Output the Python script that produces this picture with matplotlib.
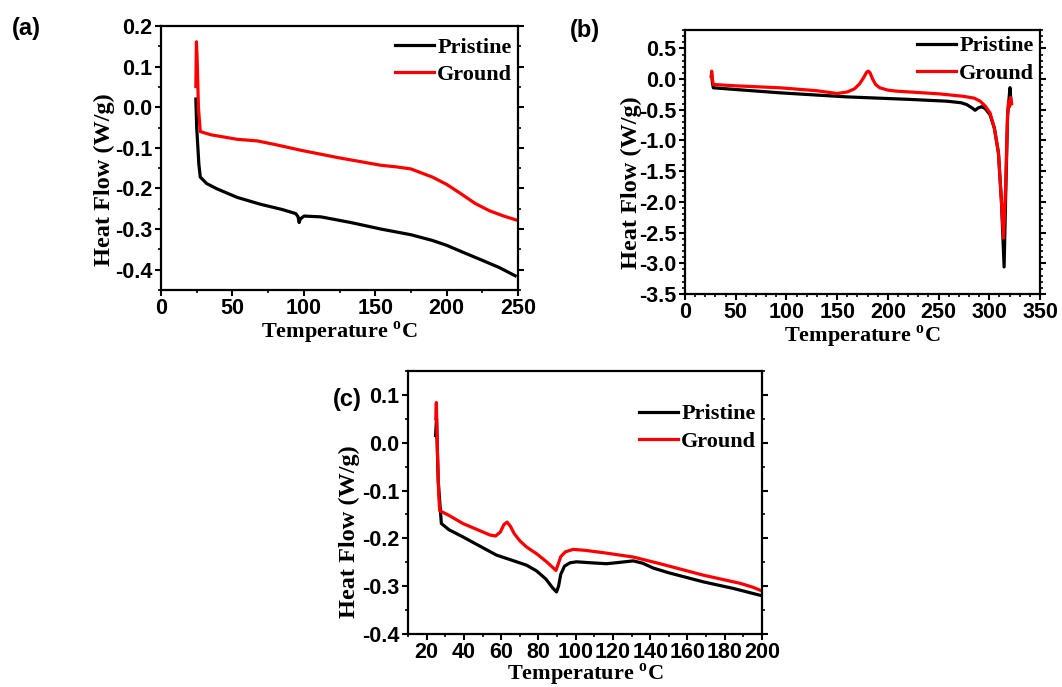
import numpy as np
import matplotlib
matplotlib.use("Agg")
from matplotlib import pyplot as plt
from matplotlib.ticker import MultipleLocator, FormatStrFormatter

plt.rcParams['font.family'] = ['Liberation Sans', 'DejaVu Sans']
plt.rcParams['font.weight'] = 'bold'
plt.rcParams['mathtext.fontset'] = 'custom'
plt.rcParams['mathtext.rm'] = 'Liberation Serif:bold'
plt.rcParams['mathtext.bf'] = 'Liberation Serif:bold'

# (a) heat flow, W/g
a_pri_T = [24.4, 25.0, 26.5, 27.5, 32, 39.2, 53.3, 69.7, 85, 94.4, 96.0, 96.7, 97.6, 100.2, 112, 133, 154, 175, 190, 200, 212, 225, 237, 248]
a_pri_v = [0.02, -0.05, -0.14, -0.172, -0.188, -0.201, -0.222, -0.239, -0.252, -0.262, -0.27, -0.284, -0.275, -0.268, -0.27, -0.284, -0.300, -0.314, -0.328, -0.34, -0.358, -0.377, -0.395, -0.415]
a_gro_T = [24.4, 24.8, 25.3, 26.2, 27.5, 35, 53.3, 67.4, 80, 97.9, 123.7, 154, 165, 175, 190, 200, 210, 220, 230, 240, 249]
a_gro_v = [0.051, 0.161, 0.12, 0.0, -0.06, -0.068, -0.079, -0.083, -0.092, -0.106, -0.124, -0.143, -0.147, -0.152, -0.172, -0.19, -0.213, -0.237, -0.255, -0.268, -0.278]

# (b)
b_pri_T = [26.0, 26.3, 27.0, 27.9, 50, 93.7, 159.4, 220, 258, 272, 277.7, 283, 286, 289, 292.5, 296, 300.7, 305, 309, 312, 314.6, 316, 318, 320.4, 321.5]
b_pri_v = [0.05, 0.075, -0.05, -0.142, -0.17, -0.224, -0.29, -0.33, -0.36, -0.385, -0.415, -0.47, -0.508, -0.47, -0.45, -0.48, -0.58, -0.8, -1.2, -2.0, -3.06, -2.0, -0.6, -0.14, -0.4]
b_gro_T = [26.0, 26.3, 27.0, 27.9, 50, 93.7, 130, 150, 160, 167, 172, 176, 179, 180.7, 182.5, 185, 188, 192, 200, 208.7, 250, 274, 285, 291, 296, 300.7, 305, 309, 312, 314, 316, 318, 319, 320, 321, 322]
b_gro_v = [0.05, 0.13, 0.0, -0.088, -0.11, -0.142, -0.19, -0.235, -0.21, -0.16, -0.08, 0.02, 0.11, 0.13, 0.1, 0.0, -0.09, -0.142, -0.18, -0.197, -0.24, -0.28, -0.31, -0.36, -0.44, -0.55, -0.8, -1.2, -2.0, -2.59, -1.8, -0.6, -0.36, -0.45, -0.3, -0.4]

# (c)
c_pri_T = [24.8, 25.3, 26.2, 27.9, 32, 39.5, 48, 57.5, 66, 73.6, 79, 84, 87.5, 89.7, 90.8, 92, 94, 97, 100.5, 108, 116.6, 124, 130.9, 136, 141.6, 150, 168.6, 185, 200]
c_pri_v = [0.015, 0.05, -0.08, -0.169, -0.182, -0.197, -0.215, -0.235, -0.246, -0.256, -0.268, -0.285, -0.303, -0.312, -0.30, -0.275, -0.258, -0.251, -0.249, -0.251, -0.253, -0.25, -0.247, -0.252, -0.262, -0.272, -0.291, -0.305, -0.32]
c_gro_T = [24.9, 25.2, 25.8, 26.5, 27.0, 32, 39.5, 48, 54, 57, 59.5, 61.5, 63.2, 65, 67, 70, 73.6, 79, 84.4, 88, 89.4, 90.5, 92, 94.5, 98.7, 105, 115, 130.9, 145.3, 168.6, 188.3, 195, 200]
c_gro_v = [0.05, 0.084, -0.02, -0.11, -0.142, -0.152, -0.169, -0.183, -0.193, -0.195, -0.187, -0.171, -0.166, -0.175, -0.19, -0.205, -0.218, -0.232, -0.249, -0.262, -0.267, -0.255, -0.238, -0.228, -0.223, -0.225, -0.23, -0.239, -0.253, -0.277, -0.294, -0.302, -0.31]

serif = {'family': 'Liberation Serif', 'weight': 'bold'}
xlabel = 'Temperature $^{\\mathbf{o}}$C'

fig = plt.figure(figsize=(10.62, 6.87), dpi=100)
ax_a = fig.add_axes([0.1516, 0.5779, 0.3362, 0.3843])
ax_b = fig.add_axes([0.6450, 0.5721, 0.3343, 0.3843])
ax_c = fig.add_axes([0.3842, 0.0771, 0.3333, 0.3829])

panels = [
    (ax_a, a_pri_T, a_pri_v, a_gro_T, a_gro_v, (0, 250), (-0.45, 0.2), 50, 25, 0.1, 0.05, (-0.129, 0.417), 1.0, 0),
    (ax_b, b_pri_T, b_pri_v, b_gro_T, b_gro_v, (0, 350), (-3.5, 0.8), 50, 10, 0.5, 0.1, (-0.121, 0.42), 1.02, 0),
    (ax_c, c_pri_T, c_pri_v, c_gro_T, c_gro_v, (10, 200), (-0.4, 0.15), 20, 10, 0.1, 0.05, (-0.136, 0.39), 0.917, -1.5),
]

for ax, pT, pv, gT, gv, xl, yl, xmaj, xmin, ymaj, ymin, ylab_xy, leg_y, xpad in panels:
    ax.plot(pT, pv, color='black', lw=2.3, label='Pristine')
    ax.plot(gT, gv, color='red', lw=2.3, label='Ground')
    ax.set_xlim(*xl)
    ax.set_ylim(*yl)
    ax.xaxis.set_major_locator(MultipleLocator(xmaj))
    ax.xaxis.set_minor_locator(MultipleLocator(xmin))
    ax.yaxis.set_major_locator(MultipleLocator(ymaj))
    ax.yaxis.set_minor_locator(MultipleLocator(ymin))
    ax.yaxis.set_major_formatter(FormatStrFormatter('%.1f'))
    ax.tick_params(which='major', direction='out', length=4, width=1.5, labelsize=15.5, pad=2)
    ax.tick_params(which='minor', direction='out', length=2.5, width=1.2)
    ax.tick_params(which='both', right=True, labelright=False)
    for s in ax.spines.values():
        s.set_linewidth(1.6)
    for lab in ax.get_xticklabels() + ax.get_yticklabels():
        lab.set_fontweight('bold')
    ax.set_xlabel(xlabel, fontdict=serif, fontsize=16, labelpad=xpad)
    ax.set_ylabel('Heat Flow (W/g)', fontdict=serif, fontsize=17.5)
    ax.yaxis.set_label_coords(*ylab_xy)
    ax.legend(loc='upper right', bbox_to_anchor=(1.015, leg_y), frameon=False,
              prop={'family': 'Liberation Serif', 'weight': 'bold', 'size': 16},
              handlelength=1.75, handletextpad=0.15, borderaxespad=0.1, labelspacing=0.3)

fig.text(0.011, 0.958, '(a)', fontsize=17, fontweight='bold', va='center')
fig.text(0.537, 0.955, '(b)', fontsize=17, fontweight='bold', va='center')
fig.text(0.313, 0.418, '(c)', fontsize=17, fontweight='bold', va='center')

plt.savefig('out.png', dpi=100)
